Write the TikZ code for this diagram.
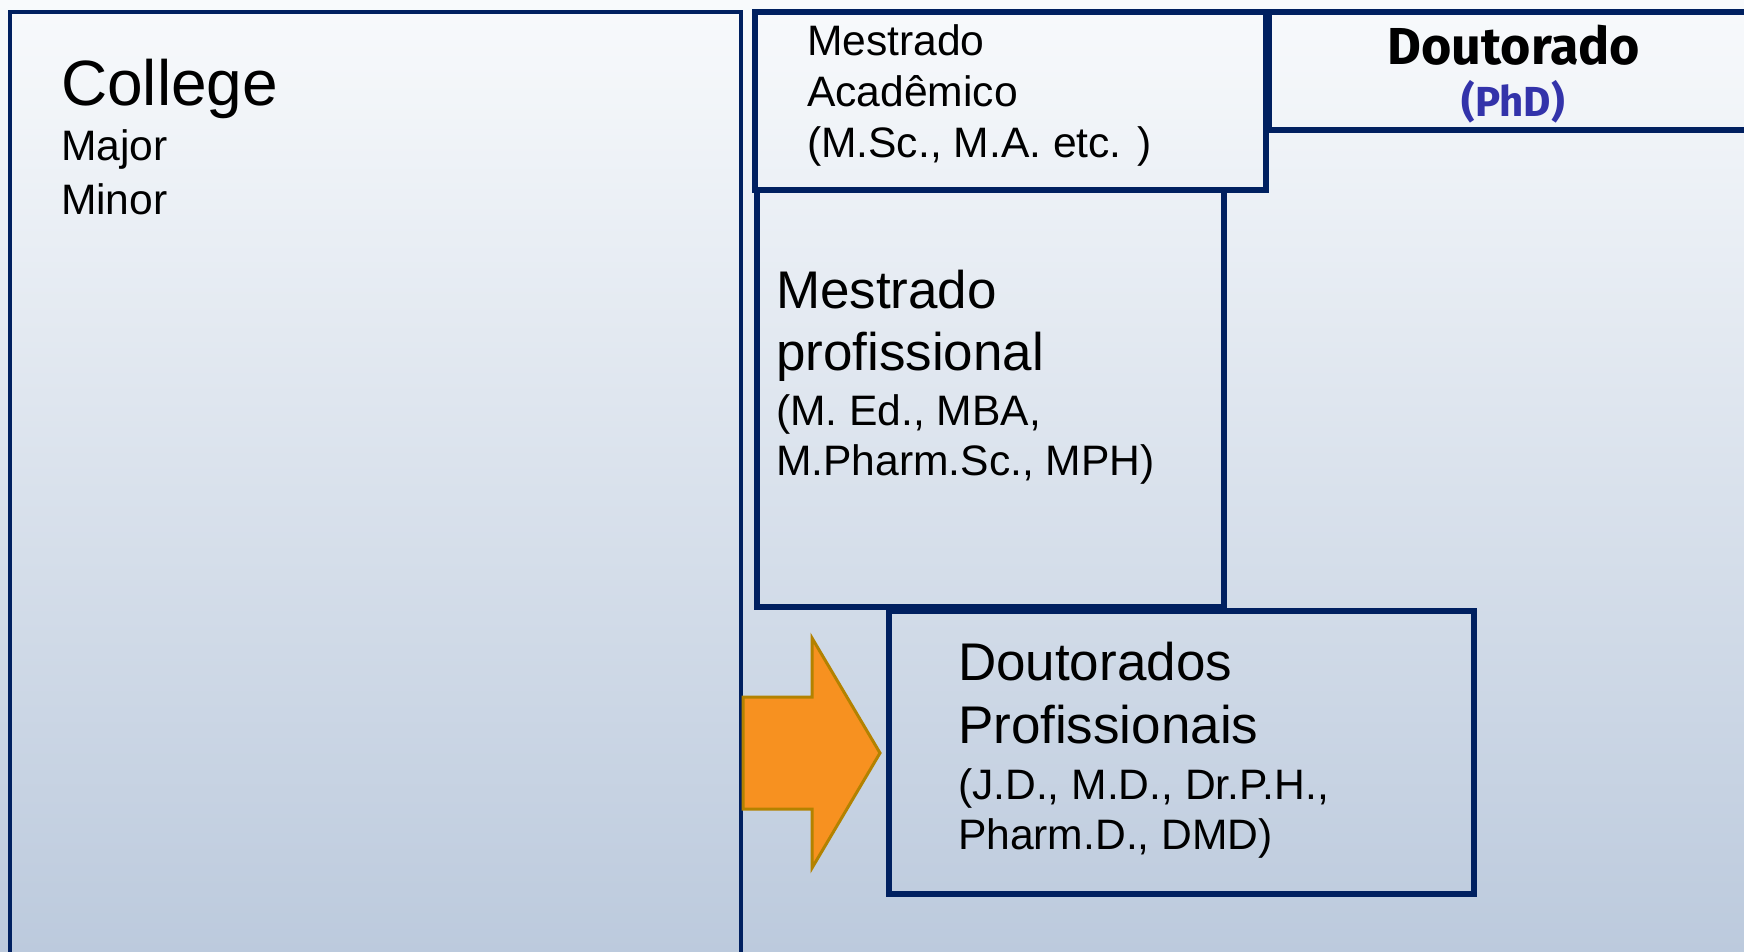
\documentclass[tikz,border=0pt]{standalone}
\usepackage{fontspec}
\setmainfont{Liberation Sans}
\newfontfamily\fira{Fira Sans}
\definecolor{navy}{RGB}{0,32,96}
\definecolor{bgtop}{RGB}{248,250,252}
\definecolor{bgbot}{RGB}{188,202,221}
\definecolor{arrfill}{RGB}{247,145,32}
\definecolor{arrline}{RGB}{179,130,0}
\definecolor{phdblue}{RGB}{51,51,170}
\begin{document}
\begin{tikzpicture}[x=0.5pt,y=-0.5pt,
  box/.style={draw=navy, line width=2.8pt},
  thinbox/.style={draw=navy, line width=2pt},
  txt/.style={anchor=base west, inner sep=0pt, outer sep=0pt},
  big/.style={font=\fontsize{26.5}{30}\selectfont},
  small/.style={font=\fontsize{21.3}{25}\selectfont}]
\useasboundingbox (0,0) rectangle (1744,952);
\clip (0,0) rectangle (1744,952);
\shade[top color=bgtop, bottom color=bgbot] (0,0) rectangle (1744,952);
% boxes
\draw[thinbox] (10,12) rectangle (741,980);
\draw[box] (757,190) rectangle (1224,607);
\draw[box] (755,12) rectangle (1266,190);
\draw[box] (1269,12) rectangle (1770,130);
\draw[box] (889,611) rectangle (1474,894);
% arrow
\draw[fill=arrfill, draw=arrline, line width=1.5pt, line join=miter]
  (743,697) -- (812,697) -- (812,638) -- (880,753) -- (812,868) -- (812,809) -- (743,809) -- cycle;
% texts
\node[txt, font=\fontsize{32}{36}\selectfont] (college) at (61,106) {College};
\node[txt, small] (major) at (61,161) {Major};
\node[txt, small] (minor) at (61,214) {Minor};
\node[txt, small] (ma1) at (807,56) {Mestrado};
\node[txt, small] (ma2) at (807,107) {Acadêmico};
\node[txt, small] (ma3) at (807,158) {(M.Sc., M.A. etc. )};
\node[anchor=base, inner sep=0pt, font=\fira\bfseries\fontsize{26}{30}\selectfont] (dout) at (1514,65) {Doutorado};
\node[anchor=base, inner sep=0pt, text=phdblue, font=\fira\bfseries\fontsize{21}{24}\selectfont] (phd) at (1513,117) {(PhD)};
\node[txt, big] (mp1) at (776,308) {Mestrado};
\node[txt, big] (mp2) at (776,370) {profissional};
\node[txt, small] (mp3) at (776,425) {(M. Ed., MBA,};
\node[txt, small] (mp4) at (776,475) {M.Pharm.Sc., MPH)};
\node[txt, big] (dp1) at (958,680) {Doutorados};
\node[txt, big] (dp2) at (958,743) {Profissionais};
\node[txt, small] (dp3) at (958,799) {(J.D., M.D., Dr.P.H.,};
\node[txt, small] (dp4) at (958,849) {Pharm.D., DMD)};
\end{tikzpicture}
\end{document}
